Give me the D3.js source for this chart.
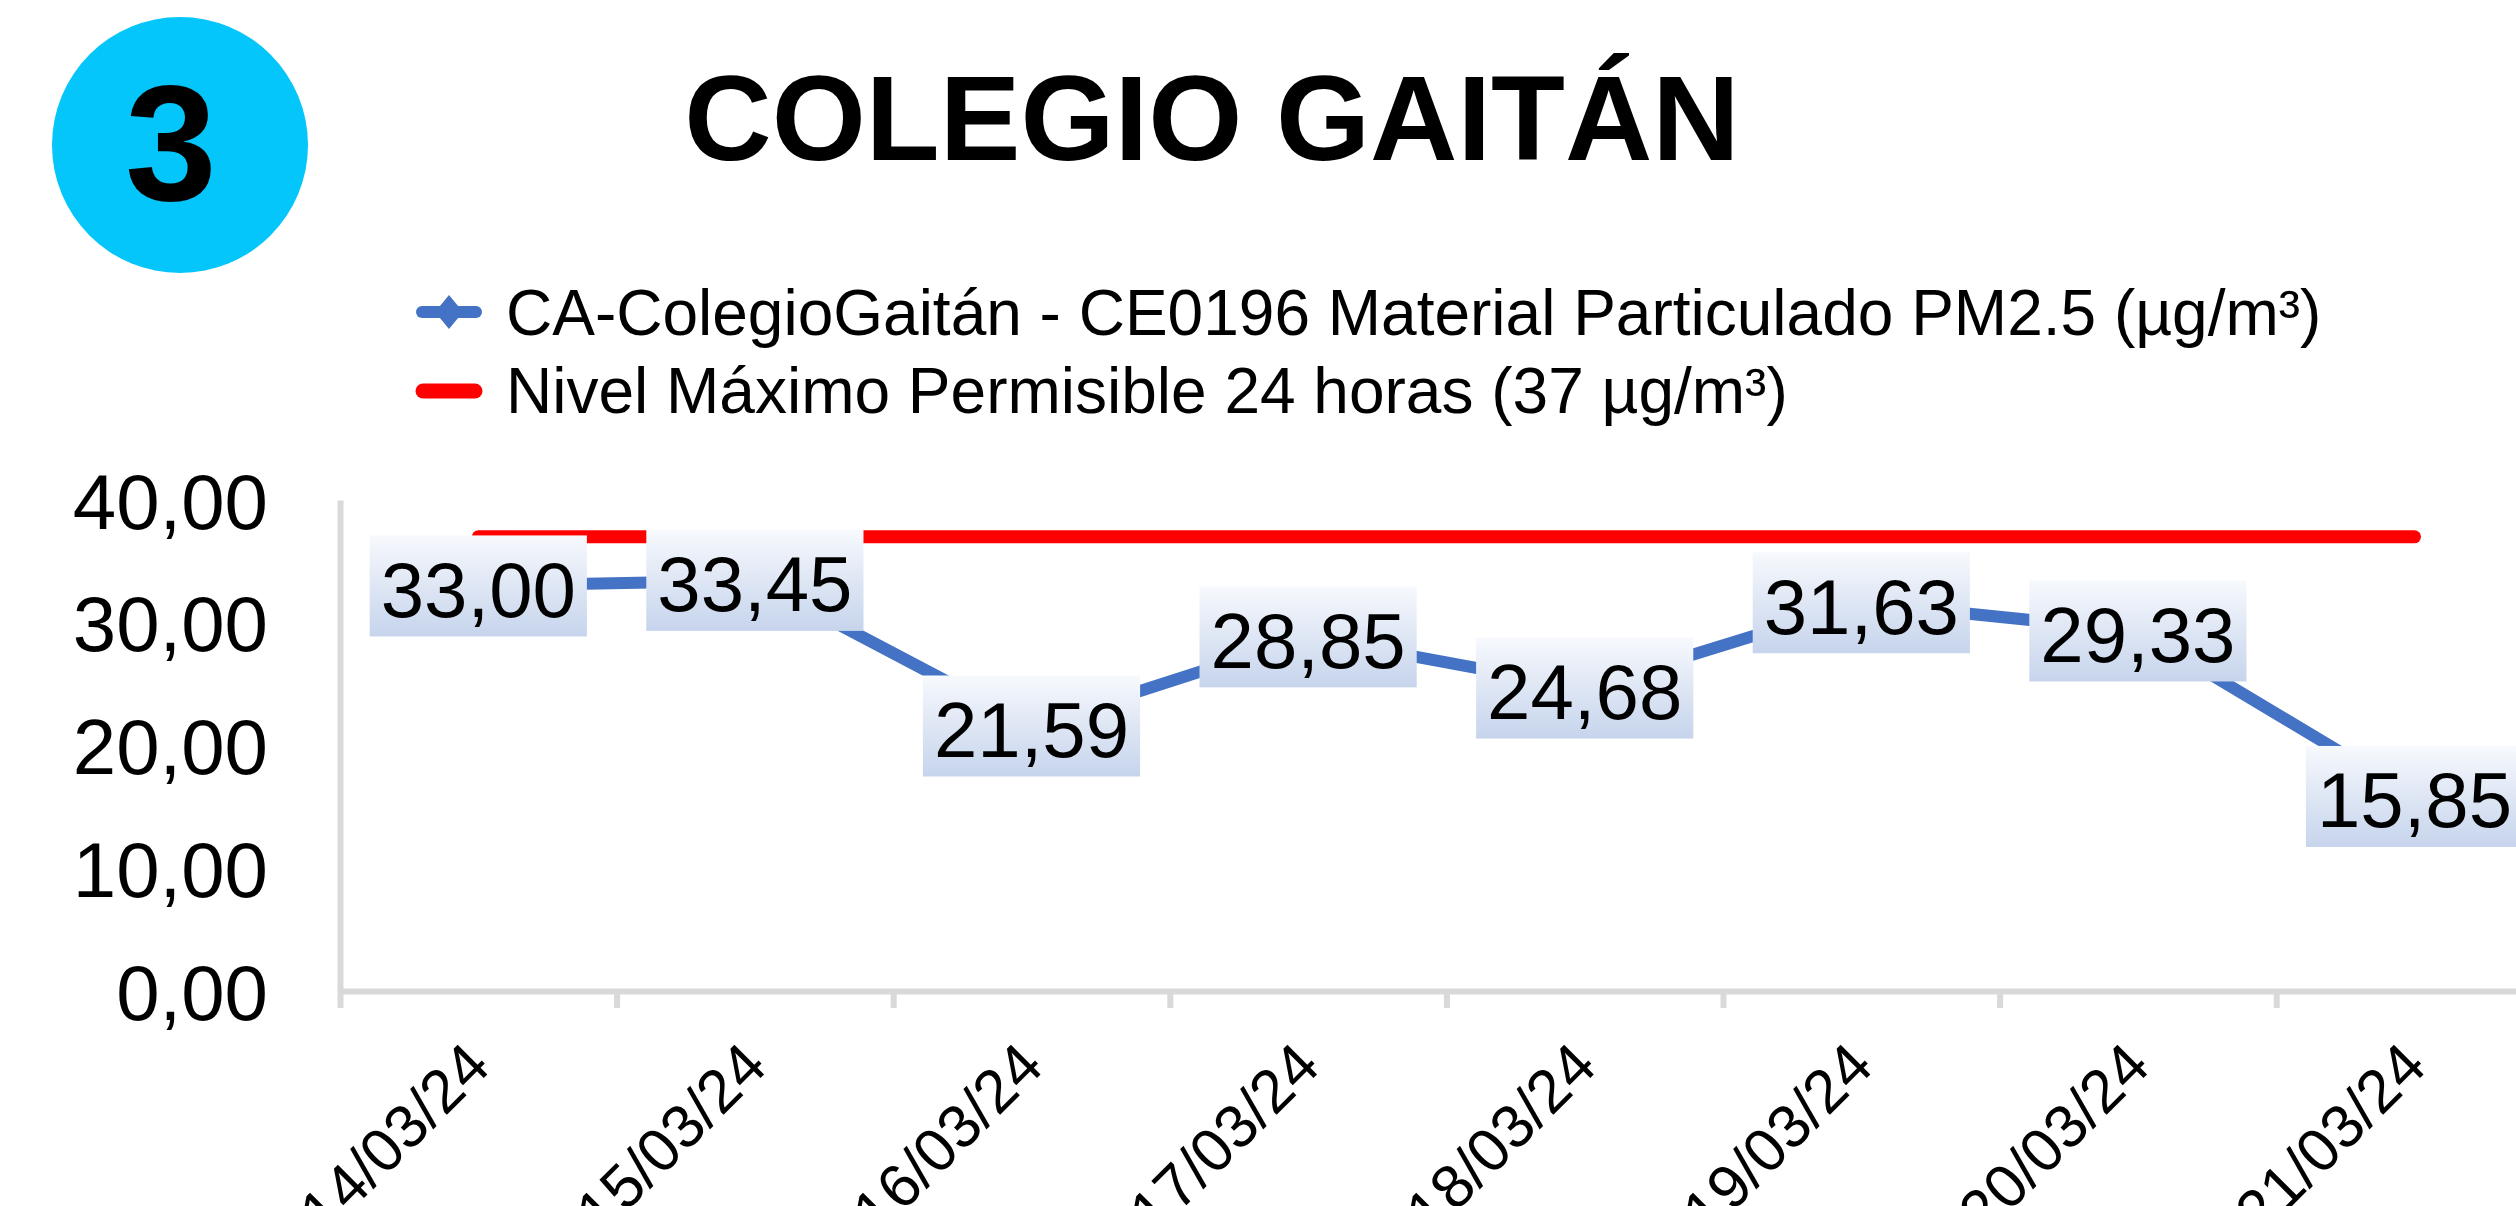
<!DOCTYPE html>
<html>
<head>
<meta charset="utf-8">
<script src="https://cdn.jsdelivr.net/npm/d3@7"></script>
<style>
  body { margin: 0; background: #fff; overflow: hidden; }
  text { font-family: "Liberation Sans", Arial, sans-serif; }
</style>
</head>
<body>
<svg id="svg"></svg>
<script>
const width = 2516;
const height = 1206;

const fechas = ["14/03/24", "15/03/24", "16/03/24", "17/03/24", "18/03/24", "19/03/24", "20/03/24", "21/03/24"];
const pm25 = [33.0, 33.45, 21.59, 28.85, 24.68, 31.63, 29.33, 15.85];
const limite = 37;
const yTicks = [0, 10, 20, 30, 40];
const serieNombre = "CA-ColegioGaitán - CE0196 Material Particulado PM2.5 (µg/m³)";
const limiteNombre = "Nivel Máximo Permisible 24 horas (37 µg/m³)";

const es = d3.formatLocale({ decimal: ",", thousands: ".", grouping: [3], currency: ["$", ""] });
const fmt = es.format(".2f");

const svg = d3.select("#svg").attr("width", width).attr("height", height);

// bands run past the right edge of the picture, like the original crop
const step = 276.6;
const x0 = 340;
const x = d3.scaleBand().domain(fechas).range([x0, x0 + step * fechas.length]);
const xEdge = d3.scaleLinear().domain([0, fechas.length]).range([x0, x0 + step * fechas.length]);
const y = d3.scaleLinear().domain([0, 40]).range([991, 500]);
const cx = (d) => x(d) + x.bandwidth() / 2;

const defs = svg.append("defs");
const grad = defs.append("linearGradient").attr("id", "lblGrad")
  .attr("x1", 0).attr("y1", 0).attr("x2", 0).attr("y2", 1);
grad.append("stop").attr("offset", "0%").attr("stop-color", "#f7f9fd");
grad.append("stop").attr("offset", "100%").attr("stop-color", "#c6d4ec");

// header
svg.append("circle").attr("cx", 180).attr("cy", 145).attr("r", 128).attr("fill", "#04c6fb");
svg.append("text").attr("x", 171).attr("y", 200).attr("text-anchor", "middle")
  .attr("font-size", 165).attr("font-weight", "bold").text("3");
svg.append("text").attr("x", 1212).attr("y", 160).attr("text-anchor", "middle")
  .attr("font-size", 121).attr("font-weight", "bold").text("COLEGIO GAITÁN");

// legend
const leg = svg.append("g");
leg.append("line").attr("x1", 422).attr("x2", 476).attr("y1", 312).attr("y2", 312)
  .attr("stroke", "#4472c4").attr("stroke-width", 12).attr("stroke-linecap", "round");
leg.append("path").attr("d", "M449,295 L463,312 L449,329 L435,312 Z").attr("fill", "#4472c4");
leg.append("text").attr("x", 506).attr("y", 335).attr("font-size", 64).text(serieNombre);
leg.append("line").attr("x1", 423).attr("x2", 475).attr("y1", 391).attr("y2", 391)
  .attr("stroke", "#ff0000").attr("stroke-width", 15).attr("stroke-linecap", "round");
leg.append("text").attr("x", 506).attr("y", 413).attr("font-size", 64).text(limiteNombre);

// axes
const yAxis = svg.append("g").attr("transform", `translate(${x0},0)`)
  .call(d3.axisLeft(y).tickValues(yTicks).tickSize(0).tickPadding(72).tickFormat(fmt));
yAxis.select(".domain").attr("stroke", "#d9d9d9").attr("stroke-width", 6);
yAxis.selectAll("text").attr("font-size", 78).attr("fill", "#000")
  .attr("font-family", "Liberation Sans, Arial, sans-serif").attr("dy", 28);

const xAxis = svg.append("g").attr("transform", `translate(0,${y(0)})`)
  .call(d3.axisBottom(xEdge).tickValues(d3.range(0, fechas.length + 1)).tickSize(17).tickSizeOuter(0).tickFormat(""));
xAxis.select(".domain").attr("stroke", "#d9d9d9").attr("stroke-width", 6);
xAxis.selectAll(".tick line").attr("stroke", "#d9d9d9").attr("stroke-width", 6);

svg.append("g").selectAll("text").data(fechas).enter().append("text")
  .attr("transform", (d) => `translate(${cx(d) + 14.5},1069) rotate(-45)`)
  .attr("text-anchor", "end").attr("font-size", 61).text((d) => d);

// limit line
svg.append("line").attr("x1", cx(fechas[0])).attr("x2", cx(fechas[fechas.length - 1]))
  .attr("y1", y(limite)).attr("y2", y(limite))
  .attr("stroke", "#ff0000").attr("stroke-width", 13).attr("stroke-linecap", "round");

// series
const line = d3.line().x((d, i) => cx(fechas[i])).y((d) => y(d));
svg.append("path").datum(pm25).attr("d", line).attr("fill", "none")
  .attr("stroke", "#4472c4").attr("stroke-width", 12).attr("stroke-linejoin", "round");

// data labels
const lbl = svg.append("g").selectAll("g").data(pm25).enter().append("g")
  .attr("transform", (d, i) => `translate(${cx(fechas[i])},${y(d)})`);
const rects = lbl.append("rect").attr("fill", "url(#lblGrad)");
const txt = lbl.append("text").attr("text-anchor", "middle").attr("y", 31)
  .attr("font-size", 78).text((d) => fmt(d));
txt.each(function (d, i) {
  const w = this.getComputedTextLength() + 22;
  d3.select(rects.nodes()[i]).attr("x", -w / 2).attr("y", -50.5).attr("width", w).attr("height", 101);
});
</script>
</body>
</html>
